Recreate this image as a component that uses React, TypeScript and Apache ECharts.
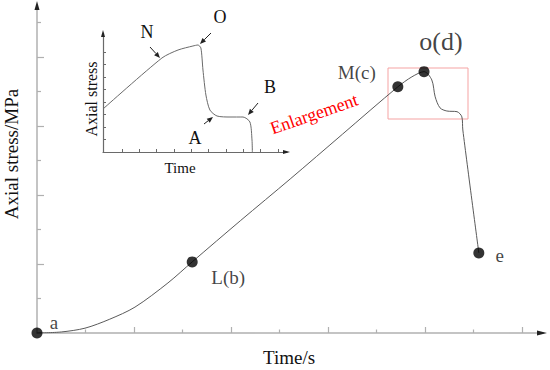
import React, { useEffect, useRef } from "react";
import * as echarts from "echarts";

// Main curve (time units: one minor tick; stress units: one minor tick)
const mainTime = [0, 0.5, 0.99, 1.5, 2.02, 2.7, 3.2, 4.2, 5.22, 6.3, 7.44, 7.73, 7.98, 8.14, 8.21, 8.31, 8.45, 8.66, 8.76, 8.78, 9.11];
const mainStress = [0, 0.03, 0.14, 0.4, 0.75, 1.45, 2.06, 3.26, 4.46, 5.76, 7.13, 7.42, 7.57, 7.33, 6.84, 6.52, 6.43, 6.41, 6.26, 5.88, 2.32];

// Key points
const keyTime = [0, 3.2, 7.44, 7.98, 9.11];
const keyStress = [0, 2.06, 7.13, 7.57, 2.32];
const keyLabels = ["a", "L(b)", "M(c)", "o(d)", "e"];

// Inset curve
const insetTime = [-0.1, 3.3, 4.23, 5.09, 5.38, 5.55, 5.67, 5.84, 6.07, 6.48, 7.23, 7.98, 8.38, 8.5, 8.52];
const insetStress = [3.44, 7.52, 8.16, 8.48, 8.56, 8.32, 6.56, 4.56, 3.36, 2.88, 2.8, 2.8, 2.4, 0.96, 0];

// Ticks
const mainMajorX = [2, 4, 6, 8, 10];
const mainMinorX = [1, 3, 5, 7, 9];
const mainMajorY = [2, 4, 6, 8];
const mainMinorY = [1, 3, 5, 7, 9];
const insetTicksX = [1, 2, 3, 4, 5, 6, 7, 8, 9, 10];
const insetTicksY = [1, 2, 3, 4, 5, 6, 7, 8];

const FONT = "'Liberation Serif', 'Times New Roman', serif";

function arrow(x1: number, y1: number, x2: number, y2: number, color: string, head = 6, halfW = 2.5) {
  const dx = x2 - x1;
  const dy = y2 - y1;
  const len = Math.sqrt(dx * dx + dy * dy);
  const ux = dx / len;
  const uy = dy / len;
  const bx = x2 - ux * head;
  const by = y2 - uy * head;
  return [
    { type: "line", shape: { x1, y1, x2: bx, y2: by }, style: { stroke: color, lineWidth: 1 }, z: 100 },
    {
      type: "polygon",
      shape: { points: [[x2, y2], [bx - uy * halfW, by + ux * halfW], [bx + uy * halfW, by - ux * halfW]] },
      style: { fill: color },
      z: 100,
    },
  ];
}

export default function App() {
  const ref = useRef<HTMLDivElement>(null);
  useEffect(() => {
    if (!ref.current) return;
    const chart = echarts.init(ref.current, null, { renderer: "svg" });
    const axisGray = "#b0b0b0";
    const labelOffsets: Record<string, [number, number]> = {
      a: [17, -11],
      "L(b)": [36, 16],
      "M(c)": [-41, -14],
      "o(d)": [17, -30],
      e: [21, 3],
    };
    const labelSizes: Record<string, number> = { a: 19, "L(b)": 19, "M(c)": 19, "o(d)": 26, e: 19 };

    const mainAxisX = (ticks: number[], len: number, showLine: boolean) => ({
      type: "value",
      gridIndex: 0,
      min: 0,
      max: 10.433,
      position: "bottom",
      axisLine: { show: showLine, onZero: false, lineStyle: { color: axisGray, width: 1.5 } },
      axisTick: { show: true, inside: true, length: len, customValues: ticks, lineStyle: { color: axisGray, width: 1.2 } },
      axisLabel: { show: false },
      splitLine: { show: false },
    });
    const mainAxisY = (ticks: number[], len: number, showLine: boolean) => ({
      type: "value",
      gridIndex: 0,
      min: 0,
      max: 9.5,
      position: "left",
      axisLine: { show: showLine, onZero: false, lineStyle: { color: axisGray, width: 1.5 } },
      axisTick: { show: true, inside: true, length: len, customValues: ticks, lineStyle: { color: axisGray, width: 1.2 } },
      axisLabel: { show: false },
      splitLine: { show: false },
    });

    const insetGray = "#6a6a6a";

    const option: any = {
      animation: false,
      backgroundColor: "#ffffff",
      grid: [
        { left: 37, top: 5, width: 506, height: 328 },
        { left: 103, top: 33, width: 184, height: 119 },
      ],
      xAxis: [
        mainAxisX(mainMajorX, 6, true),
        mainAxisX(mainMinorX, 3.5, false),
        {
          type: "value",
          gridIndex: 1,
          min: -0.1,
          max: 10.52,
          position: "bottom",
          axisLine: { show: true, onZero: false, lineStyle: { color: insetGray, width: 1.2 } },
          axisTick: { show: true, inside: true, length: 3, customValues: insetTicksX, lineStyle: { color: insetGray } },
          axisLabel: { show: false },
          splitLine: { show: false },
        },
      ],
      yAxis: [
        mainAxisY(mainMajorY, 7, true),
        mainAxisY(mainMinorY, 4, false),
        {
          type: "value",
          gridIndex: 1,
          min: 0,
          max: 9.52,
          position: "left",
          axisLine: { show: true, onZero: false, lineStyle: { color: insetGray, width: 1.2 } },
          axisTick: { show: true, inside: true, length: 3, customValues: insetTicksY, lineStyle: { color: insetGray } },
          axisLabel: { show: false },
          splitLine: { show: false },
        },
      ],
      series: [
        {
          type: "line",
          xAxisIndex: 0,
          yAxisIndex: 0,
          data: mainTime.map((t, i) => [t, mainStress[i]]),
          smooth: 0.3,
          showSymbol: false,
          lineStyle: { color: "#5a5a5a", width: 1 },
          z: 3,
        },
        {
          type: "scatter",
          xAxisIndex: 0,
          yAxisIndex: 0,
          symbolSize: 11,
          itemStyle: { color: "#000" },
          z: 5,
          data: keyTime.map((t, i) => ({
            value: [t, keyStress[i]],
            label: {
              show: true,
              formatter: keyLabels[i],
              position: "inside",
              offset: labelOffsets[keyLabels[i]],
              color: "#111",
              fontFamily: FONT,
              fontSize: labelSizes[keyLabels[i]],
            },
          })),
        },
        {
          type: "line",
          xAxisIndex: 2,
          yAxisIndex: 2,
          data: insetTime.map((t, i) => [t, insetStress[i]]),
          smooth: 0.25,
          showSymbol: false,
          lineStyle: { color: "#6a6a6a", width: 1 },
          z: 3,
        },
      ],
      graphic: [
        // main axis arrowheads
        { type: "polygon", shape: { points: [[37, 1], [34.5, 10], [39.5, 10]] }, style: { fill: "#222" }, z: 100 },
        { type: "polygon", shape: { points: [[547, 333], [537, 330.5], [537, 335.5]] }, style: { fill: "#222" }, z: 100 },
        // inset axis arrowheads
        { type: "polygon", shape: { points: [[103, 30], [101, 37], [105, 37]] }, style: { fill: "#222" }, z: 100 },
        { type: "polygon", shape: { points: [[290, 152], [283, 150], [283, 154]] }, style: { fill: "#222" }, z: 100 },
        // enlargement box
        {
          type: "rect",
          shape: { x: 388, y: 68, width: 80, height: 51 },
          style: { fill: "none", stroke: "#f5a3a3", lineWidth: 1 },
          z: 2,
        },
        {
          type: "text",
          x: 314,
          y: 114,
          rotation: (19 * Math.PI) / 180,
          style: { text: "Enlargement", fill: "#ff0000", font: `18px ${FONT}`, align: "center", verticalAlign: "middle" },
          z: 100,
        },
        // axis titles
        {
          type: "text",
          x: 11,
          y: 154,
          rotation: Math.PI / 2,
          style: { text: "Axial stress/MPa", fill: "#111", font: `19px ${FONT}`, align: "center", verticalAlign: "middle" },
        },
        {
          type: "text",
          x: 289,
          y: 357,
          style: { text: "Time/s", fill: "#111", font: `19px ${FONT}`, align: "center", verticalAlign: "middle" },
        },
        // inset titles
        {
          type: "text",
          x: 91,
          y: 99,
          rotation: Math.PI / 2,
          style: { text: "Axial stress", fill: "#111", font: `16px ${FONT}`, align: "center", verticalAlign: "middle" },
        },
        {
          type: "text",
          x: 180,
          y: 168,
          style: { text: "Time", fill: "#111", font: `15px ${FONT}`, align: "center", verticalAlign: "middle" },
        },
        // inset letters
        { type: "text", x: 147, y: 32, style: { text: "N", fill: "#111", font: `18px ${FONT}`, align: "center", verticalAlign: "middle" } },
        { type: "text", x: 220, y: 17, style: { text: "O", fill: "#111", font: `18px ${FONT}`, align: "center", verticalAlign: "middle" } },
        { type: "text", x: 270, y: 87, style: { text: "B", fill: "#111", font: `18px ${FONT}`, align: "center", verticalAlign: "middle" } },
        { type: "text", x: 195, y: 138, style: { text: "A", fill: "#111", font: `18px ${FONT}`, align: "center", verticalAlign: "middle" } },
        ...arrow(150, 47, 160, 58, "#222"),
        ...arrow(211, 33, 200, 44, "#222"),
        ...arrow(258, 103, 248, 115, "#222"),
        ...arrow(204, 124, 213, 117, "#222"),
      ],
    };
    chart.setOption(option);
    return () => chart.dispose();
  }, []);
  return (
    <div
      ref={ref}
      style={{ position: "fixed", left: 0, top: 0, width: 550, height: 370, background: "#fff" }}
    />
  );
}
